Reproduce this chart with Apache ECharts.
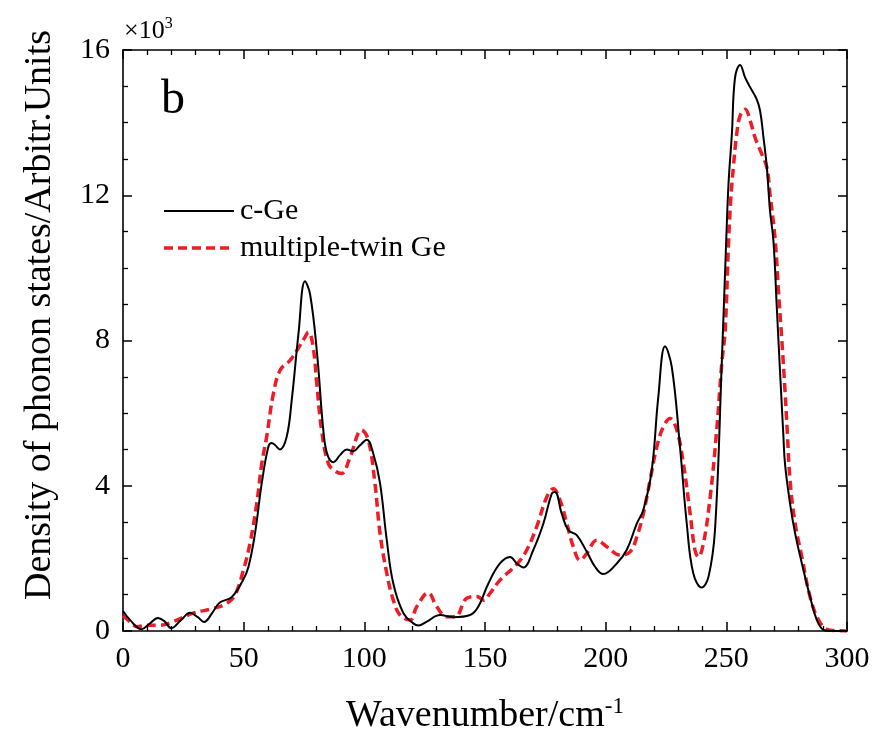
<!DOCTYPE html>
<html>
<head>
<meta charset="utf-8">
<script src="https://cdn.jsdelivr.net/npm/echarts@6/dist/echarts.min.js"></script>
<style>
  html, body { margin: 0; padding: 0; background: #fff; }
  #chart { width: 873px; height: 736px; }
</style>
</head>
<body>
<div id="chart"></div>
<script>
// Phonon density of states (units of 10^3), wavenumber in cm^-1
var cGeX = [0, 3, 7.7, 11, 14.5, 17, 20, 24, 27.8, 31, 33.6, 37, 40, 45, 49.7, 52, 54.7, 57.5, 60.2, 61.6, 63, 65, 67.8, 69.9, 72.7, 75.4, 77.5, 80.3, 83.3, 85, 87.2, 90, 92.7, 95.4, 98, 101, 103.7, 106.5, 109.3, 112, 116.2, 120.3, 122.4, 125.9, 131.4, 136.9, 143.8, 147.2, 151.4, 156.2, 160.4, 163.2, 165.9, 170, 174.2, 177.7, 179, 181.8, 184.5, 188, 192.2, 195.6, 199, 204.6, 208.7, 212.9, 215.6, 219.1, 221.8, 224.6, 227.4, 230.8, 233.6, 236.3, 239.8, 242.6, 245.3, 248.1, 249.9, 250.9, 252.3, 253.6, 255.7, 257.8, 259.9, 262.6, 264, 265.4, 266.8, 268.1, 269.5, 270.9, 272.3, 273.6, 274.3, 276.4, 278.5, 281.3, 284.7, 287.5, 290.2, 293, 300];
var cGeY = [0.55, 0.3, 0.05, 0.2, 0.36, 0.28, 0.08, 0.3, 0.5, 0.38, 0.25, 0.5, 0.78, 0.93, 1.4, 1.77, 2.69, 4.07, 5.07, 5.18, 5.12, 5.0, 5.34, 6.35, 8.18, 9.63, 9.28, 7.72, 5.34, 4.8, 4.65, 4.85, 5.0, 4.95, 5.1, 5.27, 4.89, 4.07, 2.5, 1.31, 0.49, 0.21, 0.15, 0.26, 0.44, 0.38, 0.44, 0.67, 1.31, 1.86, 2.04, 1.86, 1.75, 2.23, 2.96, 3.79, 3.83, 3.23, 2.78, 2.64, 2.18, 1.77, 1.57, 1.86, 2.23, 2.96, 3.33, 4.43, 6.44, 7.84, 7.27, 5.07, 2.96, 1.59, 1.2, 1.49, 2.78, 7.36, 10.66, 12.31, 13.69, 15.24, 15.59, 15.24, 14.97, 14.64, 14.32, 13.59, 12.76, 11.57, 10.75, 8.92, 7.08, 5.43, 4.61, 3.51, 2.69, 1.86, 0.94, 0.3, 0.03, 0, 0];

var twinX = [0, 3, 5.7, 9.8, 15.3, 20.8, 29.1, 37.4, 43, 46.4, 49.9, 52.6, 55.4, 57.5, 59.5, 62.3, 65.1, 69.2, 72, 75.4, 76.8, 78.6, 80.3, 82.3, 85.1, 88, 90.6, 94.1, 98.9, 101.7, 104.4, 106.5, 109.3, 112, 114.8, 118.9, 121.7, 126.5, 130, 134.2, 137.6, 142.4, 146.6, 149.5, 152.1, 156.2, 163.2, 167.3, 171.4, 175.6, 178.3, 181.1, 183.9, 186.6, 189.4, 192.2, 196.3, 200.5, 206, 210.1, 212.9, 215.6, 218.4, 221.2, 223.9, 226.7, 229.5, 232.2, 235, 237, 238.4, 240.5, 243.3, 246, 248.1, 249.5, 250.9, 251.8, 252.9, 254.3, 255.7, 257.8, 259.9, 261.9, 264.7, 266.8, 268.1, 270.2, 271.6, 273, 274.3, 275.3, 276.4, 278.5, 281.3, 284.7, 288.2, 291.6, 295, 300];
var twinY = [0.42, 0.25, 0.12, 0.16, 0.16, 0.26, 0.49, 0.62, 0.76, 0.99, 1.68, 2.41, 3.51, 4.61, 5.34, 6.53, 7.18, 7.45, 7.72, 8.09, 8.23, 7.91, 6.81, 5.53, 4.61, 4.4, 4.34, 4.79, 5.53, 5.25, 4.06, 2.69, 1.59, 0.85, 0.44, 0.3, 0.67, 1.05, 0.67, 0.39, 0.39, 0.9, 0.95, 0.85, 1.04, 1.4, 1.84, 2.23, 2.87, 3.69, 3.92, 3.6, 2.96, 2.32, 1.95, 2.14, 2.5, 2.32, 2.09, 2.18, 2.59, 3.23, 4.15, 5.07, 5.62, 5.85, 5.53, 4.61, 3.23, 2.23, 2.04, 2.41, 3.69, 5.53, 7.36, 8.27, 10.66, 11.85, 12.76, 13.68, 14.19, 14.37, 14.05, 13.59, 13.13, 12.76, 12.03, 10.8, 9.37, 8.0, 6.63, 5.43, 4.15, 2.96, 2.04, 0.94, 0.3, 0.05, 0.01, 0];

var seriesNames = ['c-Ge', 'multiple-twin Ge'];
var xTicks = [0, 50, 100, 150, 200, 250, 300];
var yTicks = [0, 4, 8, 12, 16];

function zip(xs, ys) {
  return xs.map(function (x, i) { return [x, ys[i]]; });
}

var FONT = '"Liberation Serif", "Times New Roman", serif';
var BLACK = '#000';
var RED = '#ee1c25';
var RED_DASH = [9, 5];
var AXIS_LINE = { show: true, onZero: false, lineStyle: { color: BLACK, width: 1.6 } };

function xAxisCfg(pos, labels) {
  return {
    type: 'value', position: pos, min: xTicks[0], max: xTicks[xTicks.length - 1],
    interval: xTicks[1] - xTicks[0],
    axisLine: AXIS_LINE,
    axisTick: { show: true, inside: true, length: 9, lineStyle: { color: BLACK, width: 1.5 } },
    minorTick: { show: true, splitNumber: 5, length: 5, lineStyle: { color: BLACK, width: 1.3 } },
    splitLine: { show: false },
    axisLabel: { show: labels, color: BLACK, fontFamily: FONT, fontSize: 30, margin: 13 }
  };
}
function yAxisCfg(pos, labels) {
  return {
    type: 'value', position: pos, min: yTicks[0], max: yTicks[yTicks.length - 1],
    interval: yTicks[1] - yTicks[0],
    axisLine: AXIS_LINE,
    axisTick: { show: true, inside: true, length: 9, lineStyle: { color: BLACK, width: 1.5 } },
    minorTick: { show: true, splitNumber: 4, length: 5, lineStyle: { color: BLACK, width: 1.3 } },
    splitLine: { show: false },
    axisLabel: { show: labels, color: BLACK, fontFamily: FONT, fontSize: 30, margin: 13 }
  };
}

var xBottom = xAxisCfg('bottom', true);
xBottom.name = '{t|Wavenumber/cm}{s|-1}';
xBottom.nameLocation = 'middle';
xBottom.nameGap = 64;
xBottom.nameTextStyle = {
  rich: {
    t: { fontFamily: FONT, fontSize: 38, color: BLACK },
    s: { fontFamily: FONT, fontSize: 23, color: BLACK, padding: [0, 0, 20, 0] }
  }
};

// Legend: a short line sample followed by the series name
function legendRow(y, name, lineStyle) {
  return [
    { type: 'line', shape: { x1: 164, y1: y, x2: 234, y2: y }, style: lineStyle },
    { type: 'text', x: 240, y: y, style: { text: name, fontFamily: FONT, fontSize: 30, fill: BLACK, verticalAlign: 'middle' } }
  ];
}

var chart = echarts.init(document.getElementById('chart'), null, { renderer: 'canvas' });
chart.setOption({
  backgroundColor: '#fff',
  animation: false,
  grid: { left: 123, right: 26, top: 50, bottom: 105, containLabel: false, outerBoundsMode: 'none' },
  xAxis: [xBottom, xAxisCfg('top', false)],
  yAxis: [yAxisCfg('left', true), yAxisCfg('right', false)],
  graphic: [
    {
      type: 'text', x: 40, y: 315, rotation: Math.PI / 2,
      style: {
        text: 'Density of phonon states/Arbitr.Units',
        fontFamily: FONT, fontSize: 38, fill: BLACK, align: 'center', verticalAlign: 'middle'
      }
    },
    {
      type: 'text', left: 124, top: 16,
      style: {
        text: '{a|\u00d710}{b|3}',
        rich: {
          a: { fontFamily: FONT, fontSize: 26, fill: BLACK },
          b: { fontFamily: FONT, fontSize: 16, fill: BLACK, padding: [0, 0, 14, 0] }
        }
      }
    },
    {
      type: 'text', left: 161, top: 76,
      style: { text: 'b', fontFamily: FONT, fontSize: 48, fill: BLACK }
    }
  ].concat(
    legendRow(211, seriesNames[0], { stroke: BLACK, lineWidth: 2 }),
    legendRow(248, seriesNames[1], { stroke: RED, lineWidth: 3.5, lineDash: RED_DASH })
  ),
  series: [
    {
      name: seriesNames[0], type: 'line', xAxisIndex: 0, yAxisIndex: 0,
      data: zip(cGeX, cGeY), smooth: 0.4, showSymbol: false, symbol: 'none',
      lineStyle: { color: BLACK, width: 2 }, itemStyle: { color: BLACK }, z: 3
    },
    {
      name: seriesNames[1], type: 'line', xAxisIndex: 0, yAxisIndex: 0,
      data: zip(twinX, twinY), smooth: 0.4, showSymbol: false, symbol: 'none',
      lineStyle: { color: RED, width: 3.5, type: RED_DASH }, itemStyle: { color: RED }, z: 2
    }
  ]
});
</script>
</body>
</html>
